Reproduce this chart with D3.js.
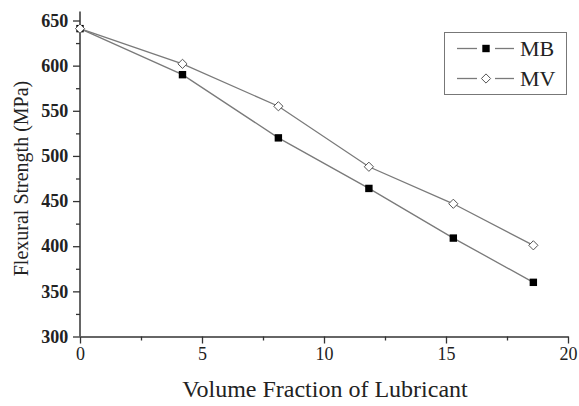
<!DOCTYPE html>
<html lang="en">
<head>
    <meta charset="UTF-8">
    <title>Flexural Strength vs Lubricant</title>
    <script src="https://d3js.org/d3.v7.min.js"></script>
    <style type="text/css">
        body {
            margin: 0;
            background: #ffffff;
        }
        svg {
            display: block;
            font-family: "Liberation Serif", "Times New Roman", serif;
        }
    </style>
</head>
<body>
    <div id="chart"></div>

    <script type="text/javascript">
        // Data
        const fractionMB = [0, 4.2, 8.13, 11.84, 15.3, 18.58];
        const strengthMB = [641, 590, 520, 464, 409, 360];
        const fractionMV = [0, 4.2, 8.13, 11.84, 15.3, 18.58];
        const strengthMV = [641, 602, 555, 488, 447, 401];
        const seriesNames = ['MB', 'MV'];
        const xTicks = [0, 5, 10, 15, 20];
        const yTicks = [300, 350, 400, 450, 500, 550, 600, 650];

        const W = 579, H = 406;
        const margin = {top: 20.5, right: 11, bottom: 69.5, left: 80};
        const width = W - margin.left - margin.right,
            height = H - margin.top - margin.bottom;

        const svg = d3.select('#chart')
            .append('svg')
            .attr('width', W)
            .attr('height', H);

        const g = svg.append('g')
            .attr('transform', `translate(${margin.left},${margin.top})`);

        // Scales
        const x = d3.scaleLinear().domain([0, 20]).range([0, width]);
        const y = d3.scaleLinear().domain([300, 650]).range([height, 0]);

        const axisColor = '#333';

        // minor ticks first
        g.append('g')
            .attr('transform', `translate(0,${height})`)
            .call(d3.axisBottom(x).tickValues(d3.range(2.5, 20, 5)).tickSize(4).tickFormat(''))
            .call(a => a.select('.domain').remove())
            .call(a => a.selectAll('line').attr('stroke', axisColor).attr('stroke-width', 1.3));

        g.append('g')
            .call(d3.axisLeft(y).tickValues(d3.range(325, 650, 50)).tickSize(4).tickFormat(''))
            .call(a => a.select('.domain').remove())
            .call(a => a.selectAll('line').attr('stroke', axisColor).attr('stroke-width', 1.3));

        // X axis
        const xAxis = g.append('g')
            .attr('transform', `translate(0,${height})`)
            .call(d3.axisBottom(x).tickValues(xTicks).tickSize(7).tickSizeOuter(0).tickPadding(4));
        xAxis.select('.domain').attr('stroke', axisColor).attr('stroke-width', 1.5);
        xAxis.selectAll('line').attr('stroke', axisColor).attr('stroke-width', 1.3);
        xAxis.selectAll('text')
            .attr('fill', '#222')
            .style('font-family', '"Liberation Serif", serif')
            .style('font-size', '18px');

        // Y axis (line runs a little past the top tick, as in the figure)
        const yAxis = g.append('g')
            .call(d3.axisLeft(y).tickValues(yTicks).tickSize(7).tickSizeOuter(0).tickPadding(4.7));
        yAxis.select('.domain').remove();
        yAxis.append('line')
            .attr('x1', 0).attr('x2', 0)
            .attr('y1', -9).attr('y2', height)
            .attr('stroke', axisColor).attr('stroke-width', 1.5);
        yAxis.selectAll('line').attr('stroke', axisColor);
        yAxis.selectAll('.tick line').attr('stroke-width', 1.3);
        yAxis.selectAll('text')
            .attr('fill', '#222')
            .style('font-family', '"Liberation Serif", serif')
            .style('font-weight', 'bold')
            .style('font-size', '18px');

        // Axis titles
        svg.append('text')
            .attr('x', 325)
            .attr('y', 397)
            .attr('text-anchor', 'middle')
            .attr('fill', '#222')
            .style('font-size', '24px')
            .text('Volume Fraction of Lubricant');

        svg.append('text')
            .attr('transform', `translate(28,${margin.top + height / 2}) rotate(-90)`)
            .attr('text-anchor', 'middle')
            .attr('fill', '#222')
            .style('font-size', '20px')
            .text('Flexural Strength (MPa)');

        // Lines
        const series = [
            {name: seriesNames[0], xs: fractionMB, ys: strengthMB},
            {name: seriesNames[1], xs: fractionMV, ys: strengthMV}
        ];

        const line = d3.line().x(d => x(d[0])).y(d => y(d[1]));
        const lineColor = '#7a7a7a';

        series.forEach(s => {
            const pts = s.xs.map((v, i) => [v, s.ys[i]]);
            g.append('path')
                .datum(pts)
                .attr('fill', 'none')
                .attr('stroke', lineColor)
                .attr('stroke-width', 1.3)
                .attr('d', line);
        });

        function drawMarker(sel, name, cx, cy) {
            if (name === 'MB') {
                sel.append('rect')
                    .attr('x', cx - 3.7).attr('y', cy - 3.7)
                    .attr('width', 7.4).attr('height', 7.4)
                    .attr('fill', '#000');
            } else {
                const r = 4.6;
                sel.append('path')
                    .attr('d', `M${cx},${cy - r}L${cx + r},${cy}L${cx},${cy + r}L${cx - r},${cy}Z`)
                    .attr('fill', '#fff')
                    .attr('stroke', '#555')
                    .attr('stroke-width', 1);
            }
        }

        // Markers (MV drawn last so the shared first point shows a diamond)
        series.forEach(s => {
            s.xs.forEach((v, i) => drawMarker(g, s.name, x(v), y(s.ys[i])));
        });

        // Legend
        const legend = svg.append('g');
        legend.append('rect')
            .attr('x', 444.5).attr('y', 32.5)
            .attr('width', 122).attr('height', 62)
            .attr('fill', '#fff')
            .attr('stroke', '#777')
            .attr('stroke-width', 1);

        series.forEach((s, i) => {
            const ly = 48.5 + i * 30;
            legend.append('line')
                .attr('x1', 457).attr('x2', 477).attr('y1', ly).attr('y2', ly)
                .attr('stroke', lineColor).attr('stroke-width', 1.3);
            legend.append('line')
                .attr('x1', 495).attr('x2', 514).attr('y1', ly).attr('y2', ly)
                .attr('stroke', lineColor).attr('stroke-width', 1.3);
            drawMarker(legend, s.name, 486, ly);
            legend.append('text')
                .attr('x', 520)
                .attr('y', ly)
                .attr('dy', '0.35em')
                .attr('fill', '#222')
                .style('font-size', '22px')
                .text(s.name);
        });
    </script>
</body>
</html>
